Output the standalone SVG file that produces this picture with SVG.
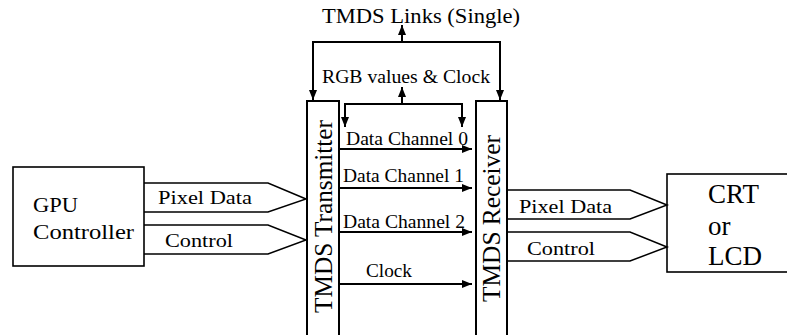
<svg xmlns="http://www.w3.org/2000/svg" width="787" height="335" viewBox="0 0 787 335">
  <defs>
    <marker id="ah" viewBox="0 0 10 8" refX="10" refY="4" markerWidth="10" markerHeight="8" markerUnits="userSpaceOnUse" orient="auto">
      <path d="M0,0 L10,4 L0,8 Z" fill="#000"/>
    </marker>
    <style>
      .box { fill: #fff; stroke: #000; stroke-width: 1.6; }
      .tbox { fill: #fff; stroke: #000; stroke-width: 2; }
      .wire { fill: none; stroke: #000; stroke-width: 2; }
      .bus { fill: none; stroke: #000; stroke-width: 1.5; stroke-linejoin: miter; }
      text { font-family: 'Liberation Serif', 'Times New Roman', Times, Tinos, 'Noto Serif', 'DejaVu Serif', FreeSerif, serif; fill: #000; }
    </style>
  </defs>

  <rect width="787" height="335" fill="#fff"/>

  <!-- GPU controller -->
  <g id="gpu">
    <rect class="box" x="13" y="167" width="131" height="99"/>
    <text x="33" y="212" font-size="22" textLength="45" lengthAdjust="spacingAndGlyphs">GPU</text>
    <text x="33" y="239" font-size="22" textLength="101" lengthAdjust="spacingAndGlyphs">Controller</text>
  </g>

  <!-- TMDS transmitter -->
  <g id="transmitter">
    <rect class="tbox" x="307" y="101" width="32" height="245"/>
    <text transform="translate(332,313) rotate(-90)" font-size="25" textLength="193" lengthAdjust="spacingAndGlyphs">TMDS Transmitter</text>
  </g>

  <!-- TMDS receiver -->
  <g id="receiver">
    <rect class="tbox" x="476" y="101" width="31" height="245"/>
    <text transform="translate(500,302) rotate(-90)" font-size="25" textLength="167" lengthAdjust="spacingAndGlyphs">TMDS Receiver</text>
  </g>

  <!-- display -->
  <g id="display">
    <rect class="box" x="667" y="174" width="125" height="98"/>
    <text x="708" y="203" font-size="27">CRT</text>
    <text x="708" y="235" font-size="27">or</text>
    <text x="708" y="265" font-size="27">LCD</text>
  </g>

  <g id="connectors">
    <!-- TMDS link bus -->
    <line class="wire" x1="312" y1="42" x2="501" y2="42"/>
    <line class="wire" x1="313" y1="42" x2="313" y2="100" marker-end="url(#ah)"/>
    <line class="wire" x1="500" y1="42" x2="500" y2="100" marker-end="url(#ah)"/>
    <line class="wire" x1="402" y1="42" x2="402" y2="25" marker-end="url(#ah)"/>

    <!-- RGB values and clock bus -->
    <line class="wire" x1="344" y1="104" x2="463" y2="104"/>
    <line class="wire" x1="345" y1="103" x2="345" y2="127" marker-end="url(#ah)"/>
    <line class="wire" x1="462" y1="103" x2="462" y2="127" marker-end="url(#ah)"/>
    <line class="wire" x1="402" y1="104" x2="402" y2="87" marker-end="url(#ah)"/>

    <!-- data channels -->
    <line class="wire" x1="339" y1="149" x2="472" y2="149" marker-end="url(#ah)"/>
    <line class="wire" x1="339" y1="188" x2="472" y2="188" marker-end="url(#ah)"/>
    <line class="wire" x1="339" y1="232" x2="472" y2="232" marker-end="url(#ah)"/>
    <line class="wire" x1="339" y1="284" x2="472" y2="284" marker-end="url(#ah)"/>

    <!-- GPU to transmitter busses -->
    <polyline class="bus" points="144,183 268,183 306,199 268,212 144,212"/>
    <polyline class="bus" points="144,225 268,225 306,240 268,254 144,254"/>

    <!-- receiver to display busses -->
    <polyline class="bus" points="507,190 630,190 667,205 630,219 507,219"/>
    <polyline class="bus" points="507,232 630,232 667,247 630,261 507,261"/>
  </g>

  <!-- labels -->
  <text x="322" y="23" font-size="20" textLength="198" lengthAdjust="spacingAndGlyphs">TMDS Links (Single)</text>
  <text x="322" y="83" font-size="19" textLength="168" lengthAdjust="spacingAndGlyphs">RGB values &amp; Clock</text>
  <text x="346" y="145" font-size="18" textLength="122" lengthAdjust="spacingAndGlyphs">Data Channel 0</text>
  <text x="343" y="182" font-size="18" textLength="121" lengthAdjust="spacingAndGlyphs">Data Channel 1</text>
  <text x="343" y="228" font-size="18" textLength="122" lengthAdjust="spacingAndGlyphs">Data Channel 2</text>
  <text x="366" y="277" font-size="18" textLength="46" lengthAdjust="spacingAndGlyphs">Clock</text>
  <text x="158" y="204" font-size="18" textLength="94" lengthAdjust="spacingAndGlyphs">Pixel Data</text>
  <text x="165" y="247" font-size="18" textLength="68" lengthAdjust="spacingAndGlyphs">Control</text>
  <text x="519" y="213" font-size="18" textLength="93" lengthAdjust="spacingAndGlyphs">Pixel Data</text>
  <text x="527" y="255" font-size="18" textLength="68" lengthAdjust="spacingAndGlyphs">Control</text>
</svg>
